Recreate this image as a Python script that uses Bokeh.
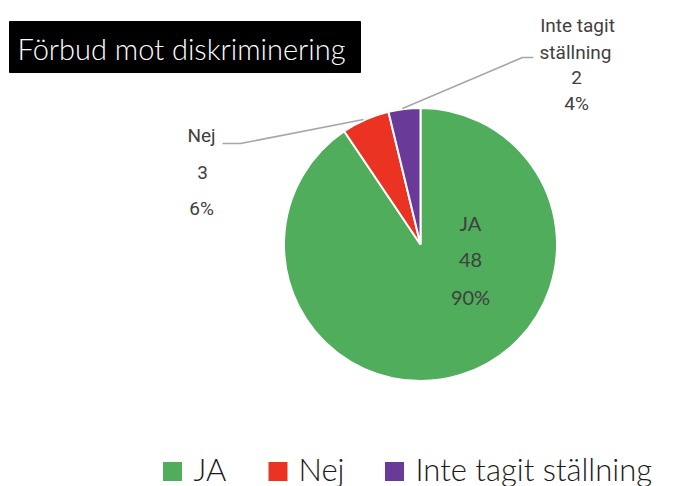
import math
from bokeh.plotting import figure
from bokeh.models import Range1d, ColumnDataSource
from bokeh.core.properties import value
from bokeh.embed import file_html
from bokeh.resources import INLINE

# ---- data ----
categories = ["JA", "Nej", "Inte tagit ställning"]
counts = [48, 3, 2]
pct_labels = ["90%", "6%", "4%"]
colors = ["#4FAD5B", "#EA3323", "#6A3A98"]
title_text = "Förbud mot diskriminering"

W, H = 685, 486

def sy(y):  # screen y -> data y
    return H - y

p = figure(width=W, height=H, output_backend="svg", toolbar_location=None,
           x_range=Range1d(0, W), y_range=Range1d(0, H),
           min_border=0, outline_line_color=None)
p.axis.visible = False
p.grid.visible = False
p.background_fill_color = "white"

# ---- pie ----
cx, cy, r = 420, sy(244), 136.5
total = sum(counts)
starts, ends = [], []
cum = 0
for c in counts:
    starts.append(math.pi / 2 - 2 * math.pi * cum / total)
    cum += c
    ends.append(math.pi / 2 - 2 * math.pi * cum / total)
src = ColumnDataSource(dict(start=starts, end=ends, color=colors, cat=categories))
p.wedge(x=cx, y=cy, radius=r, start_angle="start", end_angle="end",
        direction="clock", fill_color="color", line_color="white", line_width=2,
        source=src)

# ---- leader lines ----
lead_col = "#A6A6A6"
p.line(x=[222, 240, 363], y=[sy(143), sy(143), sy(119)], line_color=lead_col, line_width=1.5)
p.line(x=[533, 522, 402], y=[sy(57), sy(57), sy(108)], line_color=lead_col, line_width=1.5)

# ---- data labels ----
lab_col = "#404040"
side_font = value("Roboto")
light_font = value("Lato Light, Lato")
# Nej
p.text(x=[201, 202, 201], y=[sy(135), sy(172), sy(208)],
       text=[categories[1], str(counts[1]), pct_labels[1]],
       text_font=side_font, text_font_size="19px", text_color=lab_col,
       text_align="center", text_baseline="middle")
# Inte tagit ställning
p.text(x=[577, 575, 576, 576], y=[sy(25), sy(52), sy(77), sy(103)],
       text=["Inte tagit", "ställning", str(counts[2]), pct_labels[2]],
       text_font=side_font, text_font_size="19px", text_color=lab_col,
       text_align="center", text_baseline="middle")
# JA
p.text(x=[470, 470, 470], y=[sy(222), sy(259), sy(296)],
       text=[categories[0], str(counts[0]), pct_labels[0]],
       text_font=value("Lato"), text_font_size="20px", text_color=lab_col,
       text_align="center", text_baseline="middle")

# ---- title box ----
p.quad(left=9, right=360, top=sy(21), bottom=sy(72), fill_color="black", line_color="black")
p.text(x=[17], y=[sy(48)], text=[title_text], text_font=light_font,
       text_font_size="29px", text_color="white", text_align="left",
       text_baseline="middle")

# ---- legend ----
leg_x = [172, 277.5, 394]
leg_tx = [193, 298, 415]
p.rect(x=leg_x, y=[sy(471)] * 3, width=19, height=19, fill_color=colors, line_color=None)
p.text(x=leg_tx, y=[sy(468)] * 3, text=categories, text_font=light_font,
       text_font_size="31px", text_color="#1a1a1a", text_align="left",
       text_baseline="middle")

open("out.html", "w").write(file_html(p, INLINE))
